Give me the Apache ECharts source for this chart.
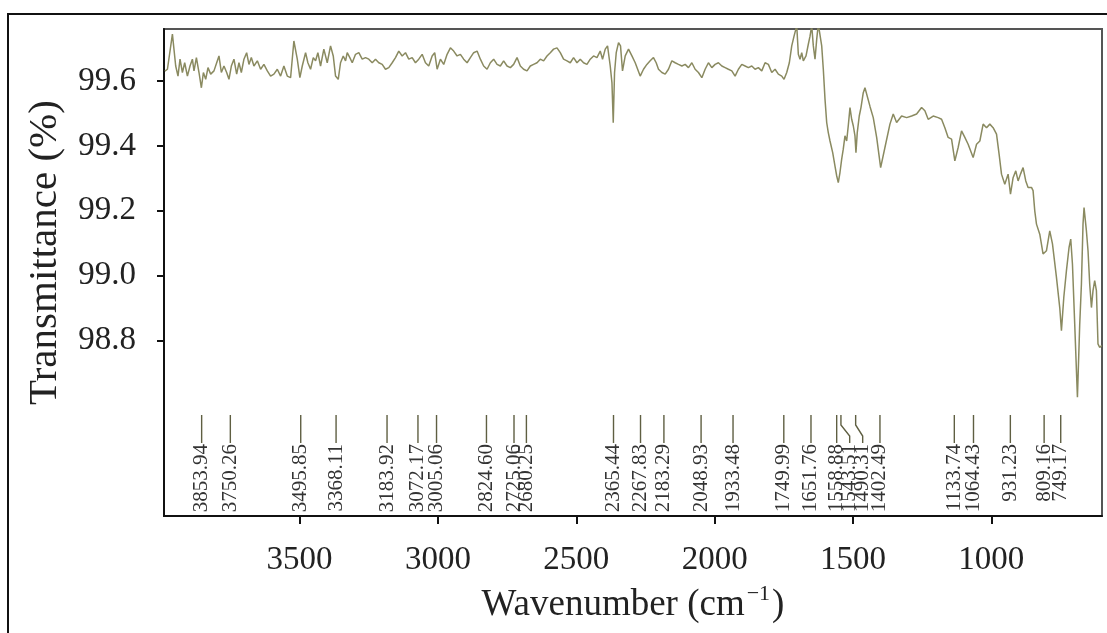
<!DOCTYPE html>
<html>
<head>
<meta charset="utf-8">
<script src="https://cdn.jsdelivr.net/npm/echarts@6/dist/echarts.min.js"></script>
<style>
html,body{margin:0;padding:0;background:#fff;}
#chart{width:1107px;height:633px;}
</style>
</head>
<body>
<div id="chart"></div>
<script>
// ---- data ----
const wavenumbers = [
3987,3977.6,3959.6,3947.7,3939.4,3932.1,3923.5,3915.2,3905.4,3896.0,3887.4,3881.6,3872.9,3863.5,3854.9,3847.6,3839.3,3831.0,3821.3,3809.4,
3799.6,3791.3,3782.7,3773.3,3763.5,3755.2,3746.6,3737.2,3727.4,3719.1,3710.5,3701.1,3691.3,3683.0,3674.4,3665.0,3652.7,3640.8,3628.9,3616.6,
3604.7,3592.8,3580.5,3568.6,3556.7,3544.4,3532.5,3520.6,3508.3,3498.9,3490.3,3478.3,3470.0,3460.3,3450.5,3442.2,3433.9,3424.2,3412.3,3400.0,
3388.1,3378.3,3370.0,3360.3,3352.0,3342.2,3333.9,3327.8,3318.4,3309.7,3297.8,3285.9,3273.6,3261.7,3249.8,3237.5,3225.6,3213.7,3201.4,3189.5,
3177.6,3165.3,3153.4,3141.5,3129.2,3117.3,3105.4,3093.1,3081.2,3069.3,3057.0,3045.1,3033.2,3020.9,3011.6,3002.9,2991.0,2979.1,2966.8,2954.9,
2943.0,2930.7,2918.8,2906.9,2894.6,2882.7,2870.8,2858.5,2846.6,2834.7,2822.4,2810.5,2798.6,2786.3,2774.4,2762.5,2750.2,2738.3,2726.4,2714.1,
2702.2,2690.3,2678.0,2666.1,2654.2,2641.9,2630.0,2618.1,2605.8,2593.9,2582.0,2569.7,2557.8,2545.9,2533.6,2521.7,2509.8,2497.5,2485.6,2473.7,
2461.4,2449.5,2437.5,2425.3,2413.4,2405.1,2395.3,2387.0,2377.3,2371.1,2366.4,2361.7,2355.6,2347.3,2340.1,2332.9,2323.1,2311.2,2298.9,2287.0,
2269.0,2257.0,2244.8,2232.9,2221.0,2211.2,2202.9,2190.6,2178.7,2166.8,2154.5,2142.6,2130.7,2118.4,2106.5,2094.6,2082.3,2070.4,2058.5,2046.2,
2034.3,2022.4,2010.1,1998.2,1986.3,1974.0,1962.1,1950.2,1937.9,1926.0,1914.1,1901.8,1889.9,1878.0,1865.7,1853.8,1841.9,1829.6,1817.7,1805.8,
1793.5,1781.6,1769.7,1757.4,1749.1,1739.4,1730.0,1721.3,1713.0,1703.2,1697.5,1691.3,1685.2,1679.4,1669.7,1661.4,1655.2,1649.1,1643.3,1637.2,
1631.1,1625.3,1619.2,1613.0,1607.2,1601.1,1595.0,1589.2,1583.0,1573.3,1565.0,1558.9,1553.1,1547.0,1540.8,1535.1,1528.9,1522.8,1517.0,1510.8,
1504.7,1498.9,1492.8,1489.2,1484.5,1477.3,1471.1,1462.8,1456.7,1450.6,1438.0,1426.7,1414.4,1400.0,1384.5,1366.4,1354.5,1342.3,1324.2,1306.1,
1288.1,1270.0,1252.0,1240.1,1228.2,1210.1,1192.1,1179.8,1167.9,1156.0,1143.7,1131.8,1119.9,1107.6,1095.7,1083.8,1065.7,1053.4,1041.5,1029.6,
1017.3,1005.4,993.5,981.2,971.8,963.2,951.3,939.4,930.7,921.3,911.6,903.2,894.6,885.2,875.5,867.1,854.9,849.1,843.0,836.8,
824.9,813.0,800.7,788.8,779.0,764.6,752.7,746.6,738.1,728.6,719.1,713.0,706.8,698.6,688.8,680.5,674.4,668.6,664.9,656.3,
650.5,644.4,638.2,632.5,626.4,620.2,614.5,608.3,601.0
];
const transmittance = [
99.630,99.636,99.744,99.646,99.615,99.667,99.626,99.656,99.615,99.646,99.667,99.631,99.672,99.626,99.579,99.626,99.605,99.641,99.621,99.631,
99.656,99.677,99.626,99.646,99.626,99.605,99.646,99.667,99.621,99.656,99.626,99.667,99.687,99.651,99.672,99.646,99.662,99.636,99.651,99.631,
99.615,99.621,99.636,99.615,99.646,99.615,99.610,99.723,99.667,99.610,99.646,99.687,99.656,99.636,99.672,99.662,99.687,99.646,99.698,99.656,
99.708,99.677,99.615,99.605,99.656,99.677,99.662,99.687,99.672,99.656,99.682,99.687,99.667,99.672,99.667,99.656,99.667,99.656,99.651,99.636,
99.641,99.656,99.672,99.692,99.677,99.687,99.667,99.672,99.656,99.667,99.682,99.656,99.646,99.677,99.687,99.636,99.667,99.651,99.682,99.702,
99.692,99.677,99.682,99.667,99.656,99.672,99.687,99.692,99.667,99.646,99.636,99.656,99.667,99.651,99.646,99.662,99.646,99.641,99.651,99.672,
99.646,99.636,99.631,99.646,99.651,99.656,99.667,99.662,99.677,99.687,99.698,99.702,99.687,99.667,99.662,99.656,99.672,99.656,99.667,99.656,
99.651,99.667,99.677,99.672,99.692,99.667,99.698,99.708,99.646,99.595,99.471,99.626,99.687,99.718,99.708,99.631,99.677,99.698,99.677,99.656,
99.615,99.636,99.651,99.662,99.672,99.656,99.636,99.626,99.621,99.636,99.662,99.656,99.651,99.646,99.651,99.641,99.656,99.636,99.626,99.610,
99.636,99.656,99.641,99.651,99.656,99.646,99.641,99.636,99.631,99.615,99.636,99.651,99.646,99.641,99.646,99.636,99.641,99.631,99.656,99.651,
99.626,99.636,99.621,99.615,99.605,99.626,99.656,99.708,99.738,99.770,99.682,99.667,99.687,99.662,99.677,99.713,99.738,99.770,99.708,99.667,
99.728,99.775,99.770,99.708,99.636,99.544,99.472,99.441,99.415,99.379,99.338,99.308,99.287,99.318,99.359,99.390,99.431,99.415,99.462,99.518,
99.482,99.462,99.431,99.379,99.441,99.492,99.518,99.564,99.579,99.574,99.520,99.487,99.426,99.333,99.395,99.467,99.498,99.472,99.492,99.487,
99.492,99.498,99.518,99.508,99.482,99.492,99.487,99.482,99.456,99.426,99.421,99.354,99.395,99.446,99.426,99.405,99.364,99.405,99.415,99.467,
99.456,99.467,99.456,99.436,99.374,99.313,99.282,99.313,99.251,99.302,99.323,99.292,99.313,99.333,99.292,99.272,99.272,99.262,99.200,99.159,
99.128,99.067,99.077,99.138,99.098,98.995,98.902,98.831,98.933,99.015,99.087,99.113,99.036,98.851,98.626,98.851,98.974,99.159,99.210,99.138,
99.077,98.974,98.902,98.954,98.985,98.954,98.790,98.779,98.785
];
const peakLabels = ['3853.94','3750.26','3495.85','3368.11','3183.92','3072.17','3005.06','2824.60','2725.06','2680.25',
  '2365.44','2267.83','2183.29','2048.93','1933.48','1749.99','1651.76','1558.88','1543.51','1490.31','1402.49',
  '1133.74','1064.43','931.23','809.16','749.17'];
const xTickValues = [3500, 3000, 2500, 2000, 1500, 1000];
const yTickValues = [98.8, 99.0, 99.2, 99.4, 99.6];
const X_MIN = 600, X_MAX = 3990, Y_MIN = 98.26, Y_MAX = 99.76;

const peakValues = peakLabels.map(Number);
const spectrum = wavenumbers.map((w, i) => [w, transmittance[i]]);

const FONT = '"Liberation Serif", "DejaVu Serif", serif';
const chart = echarts.init(document.getElementById('chart'), null, {renderer: 'canvas'});

// label layout: keep labels from overlapping by pushing them right
const MIN_GAP = 13;
function labelPositions(api) {
  const out = [];
  let prev = -Infinity;
  peakValues.forEach(v => {
    const x = api.coord([v, Y_MIN])[0];
    let lx = Math.max(x, prev + MIN_GAP);
    if (lx - x < 2) lx = x;
    out.push([x, lx]);
    prev = lx;
  });
  return out;
}

const option = {
  animation: false,
  backgroundColor: '#fff',
  graphic: [{
    type: 'rect', z: -10, silent: true,
    shape: {x: 8, y: 14, width: 1130, height: 650},
    style: {fill: 'none', stroke: '#111', lineWidth: 2}
  }],
  grid: {
    left: 164, right: 5, top: 29, bottom: 117,
    show: true, borderColor: '#555', borderWidth: 2, backgroundColor: 'transparent'
  },
  xAxis: {
    type: 'value', inverse: true, min: X_MIN, max: X_MAX,
    name: '{a|Wavenumber (cm}{s|−1}{a|)}',
    nameLocation: 'middle', nameGap: 67,
    nameTextStyle: {
      rich: {
        a: {fontFamily: FONT, fontSize: 37, color: '#222', lineHeight: 44},
        s: {fontFamily: FONT, fontSize: 22, color: '#222', verticalAlign: 'top', lineHeight: 44, padding: [0, 2, 18, 2]}
      }
    },
    axisLine: {show: true, onZero: false, lineStyle: {color: '#111', width: 2}},
    axisTick: {show: true, inside: false, length: 8, customValues: xTickValues, lineStyle: {color: '#111', width: 2}},
    axisLabel: {customValues: xTickValues, margin: 28, fontFamily: FONT, fontSize: 33, color: '#222',
      formatter: v => String(v)},
    splitLine: {show: false}
  },
  yAxis: {
    type: 'value', min: Y_MIN, max: Y_MAX,
    name: 'Transmittance (%)',
    nameLocation: 'middle', nameGap: 98, nameRotate: 90,
    nameTextStyle: {fontFamily: FONT, fontSize: 41, color: '#222', padding: [0, 0, 0, 40]},
    axisLine: {show: true, lineStyle: {color: '#111', width: 2}},
    axisTick: {show: true, inside: false, length: 7, customValues: yTickValues, lineStyle: {color: '#111', width: 2}},
    axisLabel: {customValues: yTickValues, margin: 28, fontFamily: FONT, fontSize: 33, color: '#222',
      formatter: v => v.toFixed(1)},
    splitLine: {show: false}
  },
  series: [{
    type: 'line',
    data: spectrum,
    showSymbol: false,
    smooth: false,
    lineStyle: {color: '#8a8a60', width: 1.5},
    clip: true,
    z: 3
  }, {
    type: 'custom',
    data: peakValues.map(v => [v, Y_MIN]),
    renderItem: function (params, api) {
      const pos = labelPositions(api)[params.dataIndex];
      const x = pos[0], lx = pos[1];
      const base = api.coord([api.value(0), Y_MIN])[1];
      const pts = (lx !== x)
        ? [[x, base - 101], [x, base - 91], [lx, base - 80], [lx, base - 73]]
        : [[x, base - 101], [x, base - 73]];
      return {
        type: 'group',
        children: [{
          type: 'polyline',
          shape: {points: pts},
          style: {stroke: '#5f5f42', lineWidth: 1.4, fill: 'none'}
        }, {
          type: 'text',
          x: lx, y: base - 72,
          rotation: Math.PI / 2,
          style: {
            text: peakLabels[params.dataIndex],
            align: 'right', verticalAlign: 'middle',
            font: '21px ' + FONT,
            fill: '#333'
          }
        }]
      };
    },
    z: 4
  }]
};
chart.setOption(option);
</script>
</body>
</html>
